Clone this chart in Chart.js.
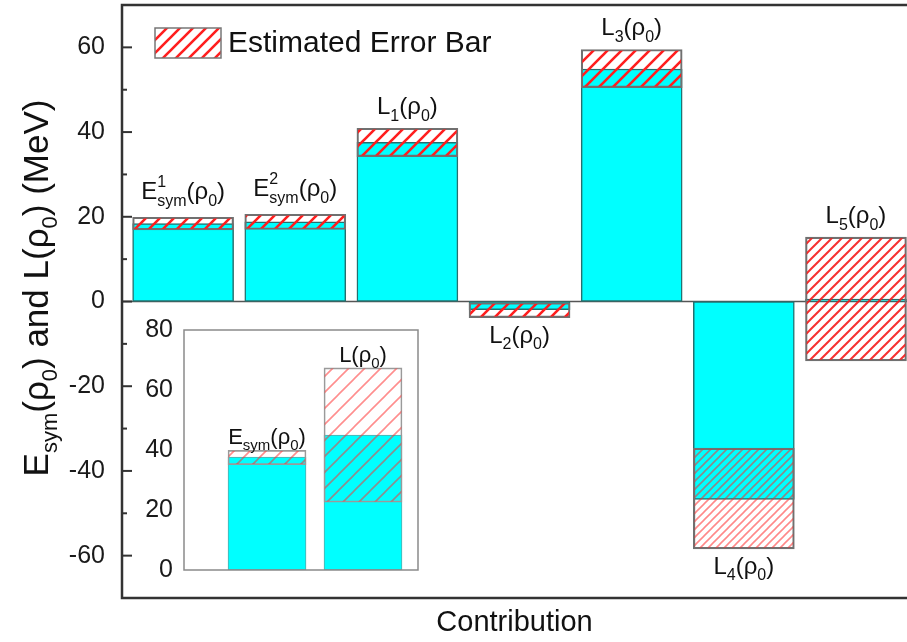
<!DOCTYPE html>
<html>
<head>
<meta charset="utf-8">
<script src="https://cdn.jsdelivr.net/npm/chart.js@4.4.0/dist/chart.umd.min.js"></script>
<style>
  html, body { margin: 0; padding: 0; background: #fff; overflow: hidden; }
  #wrap { position: relative; width: 907px; height: 642px; }
  #main { position: absolute; left: 0; top: 0; }
  #inset { position: absolute; left: 130px; top: 315px; }
</style>
</head>
<body>
<div id="wrap">
  <canvas id="main" width="907" height="642"></canvas>
  <canvas id="inset" width="300" height="270"></canvas>
</div>
<script>
const FONT = '"Liberation Sans", Arial, Helvetica, sans-serif';

// main panel: each contribution has a central value and an estimated error range (MeV)
const labelBase = ['E', 'E', 'L', 'L', 'L', 'L', 'L'];
const labelSup  = ['1', '2', '', '', '', '', ''];
const labelSub  = ['sym', 'sym', '1', '2', '3', '4', '5'];
const values    = [18.4, 18.8, 37.6, -1.9, 54.9, -46.7, 0.6];
const errMin    = [16.9, 17.0, 34.2, -3.8, 50.5, -58.4, -14.0];
const errMax    = [19.9, 20.6, 40.9, -0.3, 59.5, -34.6, 15.2];
const yTicks    = [-60, -40, -20, 0, 20, 40, 60];

// inset: the summed quantities
const insetBase   = ['E', 'L'];
const insetSub    = ['sym', ''];
const insetValues = [37.6, 45.0];
const insetErrMin = [35.1, 22.6];
const insetErrMax = [39.9, 67.4];
const insetTicks  = [0, 20, 40, 60, 80];

// diagonal "/" hatch as a repeating canvas pattern
function hatch(color, gap, width) {
  const c = document.createElement('canvas');
  c.width = gap; c.height = gap;
  const g = c.getContext('2d');
  g.strokeStyle = color;
  g.lineWidth = width;
  g.beginPath();
  g.moveTo(0, gap); g.lineTo(gap, 0);
  g.moveTo(-gap / 2, gap / 2); g.lineTo(gap / 2, -gap / 2);
  g.moveTo(gap / 2, gap * 1.5); g.lineTo(gap * 1.5, gap / 2);
  g.stroke();
  return g.createPattern(c, 'repeat');
}

const redHatch = hatch('#ff1e1e', 14, 2.6);
const mainHatches = [redHatch, redHatch, redHatch, redHatch, redHatch,
  hatch('rgba(255,40,40,0.55)', 8, 1.6), hatch('rgba(245,25,25,0.9)', 10, 2)];
const insetHatch = hatch('rgba(255,50,50,0.55)', 16, 1.6);
const legendHatch = hatch('#ff1e1e', 13, 2.6);

// text pieces drawn left to right; a piece with sup/sub stacks both at the same x
function pieceWidth(ctx, p) {
  ctx.font = p.size + 'px ' + FONT;
  if (p.sup !== undefined) return Math.max(ctx.measureText(p.sup).width, ctx.measureText(p.sub).width);
  return ctx.measureText(p.text).width;
}
function drawRich(ctx, parts, x, y, align) {
  const total = parts.reduce((s, p) => s + pieceWidth(ctx, p), 0);
  let cx = align === 'center' ? x - total / 2 : x;
  ctx.textAlign = 'left';
  ctx.textBaseline = 'alphabetic';
  for (const p of parts) {
    const w = pieceWidth(ctx, p);
    ctx.font = p.size + 'px ' + FONT;
    if (p.sup !== undefined) {
      ctx.fillText(p.sup, cx, y - p.size * 0.75);
      ctx.fillText(p.sub, cx, y + p.size * 0.4);
    } else {
      ctx.fillText(p.text, cx, y + (p.dy || 0));
    }
    cx += w;
  }
}
function richLabel(base, sup, sub, big, small) {
  const parts = [{ text: base, size: big }];
  if (sup) parts.push({ sup: sup, sub: sub, size: small });
  else if (sub) parts.push({ text: sub, size: small, dy: small * 0.4 });
  parts.push({ text: '(ρ', size: big }, { text: '0', size: small, dy: small * 0.4 }, { text: ')', size: big });
  return parts;
}

// keep the plot box exactly where the axis fit puts it
function noEdgePadding(scale) {
  scale.paddingTop = 0;
  scale.paddingBottom = 0;
}

const mainDecor = {
  id: 'mainDecor',
  beforeDatasetsDraw(chart) {
    const { ctx, chartArea: a, scales: { y } } = chart;
    const y0 = y.getPixelForValue(0);
    ctx.save();
    ctx.strokeStyle = '#555';
    ctx.lineWidth = 1.5;
    ctx.beginPath();
    ctx.moveTo(a.left, y0);
    ctx.lineTo(a.right, y0);
    ctx.stroke();
    ctx.restore();
  },
  afterDraw(chart) {
    const { ctx, chartArea: a, scales: { x, y } } = chart;
    ctx.save();

    // frame around the plot
    ctx.strokeStyle = '#333';
    ctx.lineWidth = 2.5;
    ctx.strokeRect(a.left, a.top, a.right - a.left + 10, a.bottom - a.top);

    // inward ticks, long on labelled values
    ctx.lineWidth = 2;
    for (const t of y.ticks) {
      const py = y.getPixelForValue(t.value);
      const len = yTicks.includes(t.value) ? 10 : 5;
      ctx.beginPath();
      ctx.moveTo(a.left, py);
      ctx.lineTo(a.left + len, py);
      ctx.stroke();
    }

    // bar names, above positive bars and below negative ones
    ctx.fillStyle = '#111';
    values.forEach((v, i) => {
      const parts = richLabel(labelBase[i], labelSup[i], labelSub[i], 24, 16);
      const px = x.getPixelForValue(i + 1);
      if (v >= 0) {
        const gap = labelSup[i] ? 18 : 14;
        drawRich(ctx, parts, px, y.getPixelForValue(errMax[i]) - gap, 'center');
      } else {
        drawRich(ctx, parts, px, y.getPixelForValue(errMin[i]) + 25, 'center');
      }
    });

    // legend
    ctx.fillStyle = legendHatch;
    ctx.fillRect(155, 28, 66, 30);
    ctx.strokeStyle = '#777';
    ctx.lineWidth = 1.5;
    ctx.strokeRect(155, 28, 66, 30);
    ctx.fillStyle = '#111';
    ctx.font = '30px ' + FONT;
    ctx.textBaseline = 'middle';
    ctx.fillText('Estimated Error Bar', 228, 44);

    // rotated y title
    ctx.translate(48, 288);
    ctx.rotate(-Math.PI / 2);
    drawRich(ctx, [
      { text: 'E', size: 35 }, { text: 'sym', size: 22, dy: 9 },
      { text: '(ρ', size: 35 }, { text: '0', size: 22, dy: 9 },
      { text: ') and L(ρ', size: 35 }, { text: '0', size: 22, dy: 9 },
      { text: ') (MeV)', size: 35 }
    ], 0, 0, 'center');
    ctx.restore();
  }
};

new Chart(document.getElementById('main'), {
  type: 'bar',
  data: {
    datasets: [
      {
        label: 'Estimated Error Bar',
        data: errMin.map((lo, i) => ({ x: i + 1, y: [lo, errMax[i]] })),
        backgroundColor: mainHatches,
        borderColor: '#707070',
        borderWidth: 1.5,
        borderSkipped: false,
        grouped: false,
        barThickness: 101,
        order: 0
      },
      {
        label: 'Contribution',
        data: values.map((v, i) => ({ x: i + 1, y: [0, v] })),
        backgroundColor: '#00ffff',
        borderColor: '#25706f',
        borderWidth: 1.5,
        borderSkipped: false,
        grouped: false,
        barThickness: 101,
        order: 1
      }
    ]
  },
  options: {
    responsive: false,
    animation: false,
    devicePixelRatio: 1,
    layout: { padding: { top: 5, right: 0, bottom: 0, left: 0 } },
    plugins: { legend: { display: false }, tooltip: { enabled: false } },
    scales: {
      x: {
        type: 'linear', min: 0.455, max: 7.455, offset: false,
        ticks: { display: false },
        grid: { display: false, drawTicks: false },
        border: { display: false },
        title: {
          display: true, text: 'Contribution', color: '#111',
          font: { size: 29, family: FONT }, padding: { top: 7, bottom: 2 }
        },
        afterFit(scale) { scale.height = 44; }
      },
      y: {
        min: -70, max: 70,
        afterBuildTicks(scale) {
          const ticks = [];
          for (const v of yTicks) {
            ticks.push({ value: v - 10 }, { value: v });
          }
          ticks.push({ value: 70 });
          scale.ticks = ticks;
        },
        ticks: {
          autoSkip: false, padding: 17, color: '#1a1a1a',
          font: { size: 25, family: FONT },
          callback: v => yTicks.includes(v) ? String(v) : ''
        },
        grid: { display: false, drawTicks: false },
        border: { display: false },
        afterFit(scale) { scale.width = 122; noEdgePadding(scale); }
      }
    }
  },
  plugins: [mainDecor]
});

const insetDecor = {
  id: 'insetDecor',
  beforeDatasetsDraw(chart) {
    const { ctx, chartArea: a } = chart;
    ctx.save();
    ctx.fillStyle = '#fff';
    ctx.fillRect(a.left, a.top, a.right - a.left, a.bottom - a.top);
    ctx.restore();
  },
  afterDraw(chart) {
    const { ctx, chartArea: a, scales: { x, y } } = chart;
    ctx.save();
    ctx.strokeStyle = '#8a8a8a';
    ctx.lineWidth = 1.5;
    ctx.strokeRect(a.left, a.top, a.right - a.left, a.bottom - a.top);
    ctx.fillStyle = '#111';
    insetValues.forEach((v, i) => {
      const parts = richLabel(insetBase[i], '', insetSub[i], 22, 15);
      drawRich(ctx, parts, x.getPixelForValue(i + 1), y.getPixelForValue(insetErrMax[i]) - 6, 'center');
    });
    ctx.restore();
  }
};

new Chart(document.getElementById('inset'), {
  type: 'bar',
  data: {
    datasets: [
      {
        label: 'Estimated Error Bar',
        data: insetErrMin.map((lo, i) => ({ x: i + 1, y: [lo, insetErrMax[i]] })),
        backgroundColor: insetHatch,
        borderColor: '#9a9a9a',
        borderWidth: 1,
        borderSkipped: false,
        grouped: false,
        barThickness: 78,
        order: 0
      },
      {
        label: 'Total',
        data: insetValues.map((v, i) => ({ x: i + 1, y: [0, v] })),
        backgroundColor: '#00ffff',
        borderColor: '#5aa8a8',
        borderWidth: 1,
        borderSkipped: false,
        grouped: false,
        barThickness: 78,
        order: 1
      }
    ]
  },
  options: {
    responsive: false,
    animation: false,
    devicePixelRatio: 1,
    layout: { padding: { top: 15, right: 12, bottom: 15, left: 0 } },
    plugins: { legend: { display: false }, tooltip: { enabled: false } },
    scales: {
      x: { type: 'linear', min: 0.135, max: 2.573, offset: false, display: false },
      y: {
        min: 0, max: 80,
        afterBuildTicks(scale) { scale.ticks = insetTicks.map(v => ({ value: v })); },
        ticks: { autoSkip: false, padding: 11, color: '#1a1a1a', font: { size: 25, family: FONT } },
        grid: { display: false, drawTicks: false },
        border: { display: false },
        afterFit(scale) { scale.width = 54; noEdgePadding(scale); }
      }
    }
  },
  plugins: [insetDecor]
});
</script>
</body>
</html>
